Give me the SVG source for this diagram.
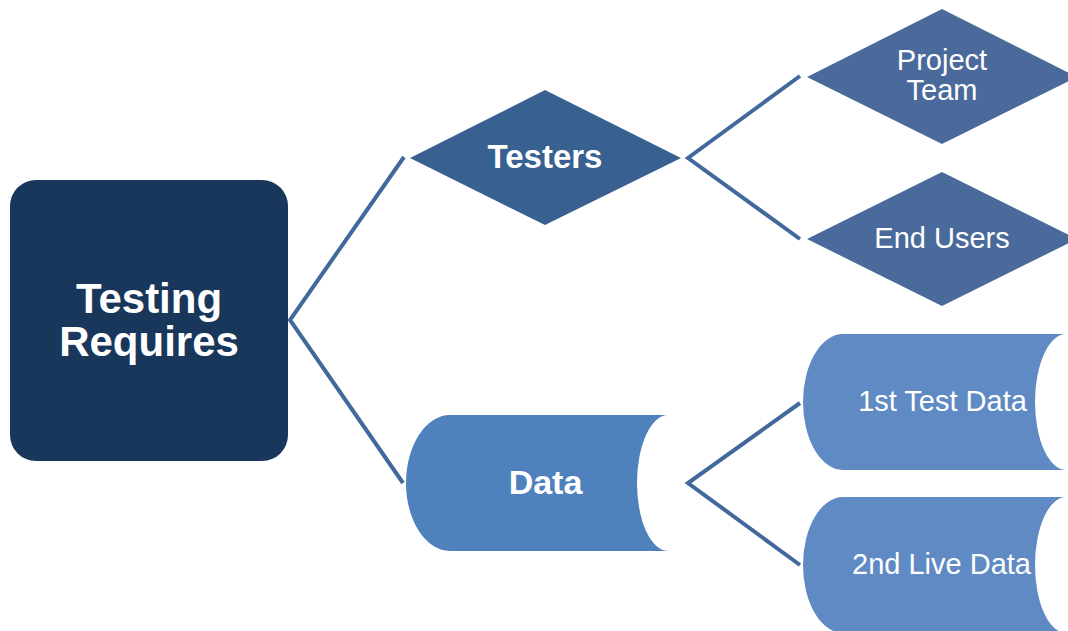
<svg xmlns="http://www.w3.org/2000/svg" width="1068" height="631" viewBox="0 0 1068 631">
<style>
.conn{fill:none;stroke:#41699c;stroke-width:4;stroke-linejoin:miter}
.tb{font-family:"Liberation Sans",Arial,sans-serif;font-weight:bold;fill:#fff;text-anchor:middle}
.tr{font-family:"Liberation Sans",Arial,sans-serif;fill:#fff;text-anchor:middle;font-size:29px}
</style>
<rect width="1068" height="631" fill="#fff"/>
<g id="connectors">
<polyline class="conn" points="404,157 290,320 403,483"/>
<polyline class="conn" points="800,76 688,158 800,239"/>
<polyline class="conn" points="800,403 688,483 800,565"/>
</g>
<g id="root">
<rect x="10" y="180" width="278" height="281" rx="26" fill="#19365b"/>
<text class="tb" x="149" y="313" font-size="42">Testing</text>
<text class="tb" x="149" y="356" font-size="42">Requires</text>
</g>
<g id="testers">
<polygon points="410,158 545,90 681,158 545,225" fill="#386192"/>
<text class="tb" x="545" y="168" font-size="33">Testers</text>
</g>
<g id="project-team">
<polygon points="807,77 942,9 1077,77 942,144" fill="#4a6a9b"/>
<text class="tr" x="942" y="70">Project</text>
<text class="tr" x="942" y="100">Team</text>
</g>
<g id="end-users">
<polygon points="807,239 942,172 1077,239 942,306" fill="#4a6a9b"/>
<text class="tr" x="942" y="248">End Users</text>
</g>
<g id="data">
<path d="M450 415H668A31 68 0 0 0 668 551H450A44 68 0 0 1 450 415Z" fill="#4f81bd"/>
<text class="tb" x="545.5" y="494" font-size="34">Data</text>
</g>
<g id="test-data">
<path d="M843 334H1066A31 68 0 0 0 1066 470H843A40 68 0 0 1 843 334Z" fill="#5f8ac4"/>
<text class="tr" x="942.5" y="411">1st Test Data</text>
</g>
<g id="live-data">
<path d="M843 497H1066A31 68 0 0 0 1066 633H843A40 68 0 0 1 843 497Z" fill="#5f8ac4"/>
<text class="tr" x="941.5" y="574">2nd Live Data</text>
</g>
</svg>
